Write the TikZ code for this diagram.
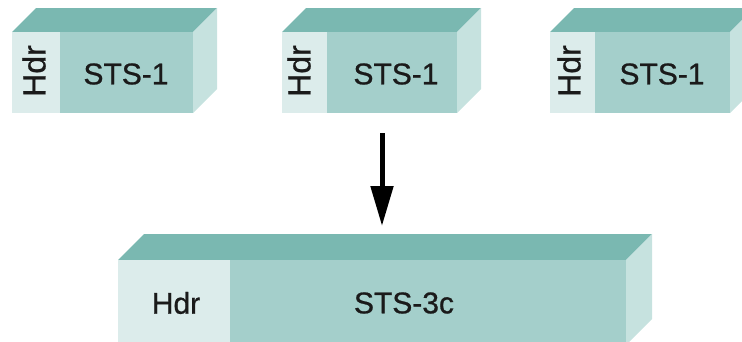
\documentclass[tikz,border=0pt]{standalone}
\usepackage{fontspec}
\setmainfont[FakeBold=0.8]{Liberation Sans}
\usetikzlibrary{arrows.meta}
\definecolor{topc}{HTML}{7AB8B1}
\definecolor{frontc}{HTML}{A4CFCB}
\definecolor{hdrc}{HTML}{DCECEB}
\definecolor{sidec}{HTML}{C6E2DF}
\definecolor{txtc}{HTML}{1A1A1A}
% #1 left, #2 hdr right, #3 right, #4 top, #5 bottom, #6 depth
\newcommand\stsbox[6]{%
  \fill[topc] (#1,#4) -- ++(#6,-#6) -- ({#3+#6},{#4-#6}) -- (#3,#4) -- cycle;
  \fill[sidec] (#3,#4) -- ({#3+#6},{#4-#6}) -- ({#3+#6},{#5-#6}) -- (#3,#5) -- cycle;
  \fill[hdrc] (#1,#4) rectangle (#2,#5);
  \fill[frontc] (#2,#4) rectangle (#3,#5);
}
\begin{document}
\begin{tikzpicture}[x=1pt,y=-1pt,
  lbl/.style={font=\fontsize{30}{30}\selectfont, text=txtc, inner sep=0pt},
  vlbl/.style={lbl, font=\fontsize{32}{32}\selectfont, rotate=90},
  arr/.style={line width=5pt, -{Triangle[length=40pt,width=22pt]}}]
\useasboundingbox (0,0) rectangle (742,341);
\stsbox{12}{60}{193}{32}{113}{24}
\stsbox{282}{327}{457}{32}{113}{24}
\stsbox{550}{595}{730}{32}{113}{24}
\stsbox{118}{230}{626}{260}{345}{26}
\node[vlbl] (h1) at (34,71) {Hdr};
\node[lbl] (s1) at (126,74) {STS-1};
\node[vlbl] (h2) at (299,71) {Hdr};
\node[lbl] (s2) at (396,74) {STS-1};
\node[vlbl] (h3) at (569,71) {Hdr};
\node[lbl] (s3) at (662,74) {STS-1};
\node[lbl] (h4) at (176,303) {Hdr};
\node[lbl] (s4) at (404,303) {STS-3c};
\coordinate (a1) at (382,133);
\coordinate (a2) at (382,226);
\draw[arr] (a1) -- (a2);
\end{tikzpicture}
\end{document}
